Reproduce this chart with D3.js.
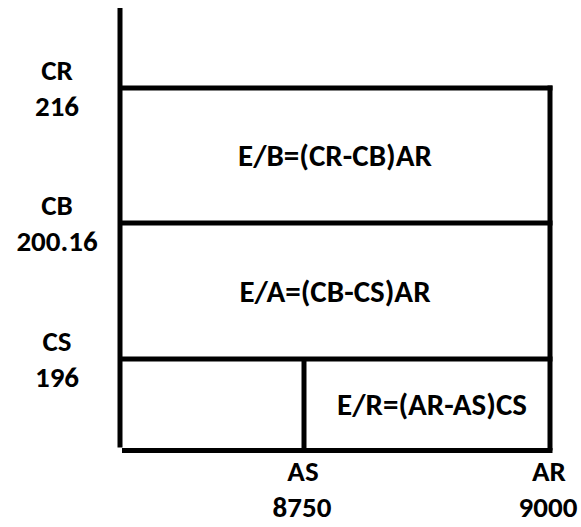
<!DOCTYPE html>
<html>
<head>
<meta charset="utf-8">
<script src="https://cdn.jsdelivr.net/npm/d3@7"></script>
<style>
  html, body { margin: 0; padding: 0; background: #fff; }
  svg text { font-family: Carlito, Calibri, Lato, sans-serif; font-weight: bold; fill: #000; }
</style>
</head>
<body>
<svg id="chart" width="581" height="527"></svg>
<script>
// Price levels (vertical) and quantities (horizontal) of the schematic
const priceNames = ['CS', 'CB', 'CR'];
const priceValues = [196, 200.16, 216];
const qtyNames = ['AS', 'AR'];
const qtyValues = [8750, 9000];
// Area labels and their bounds: [top level, bottom level, left qty (null = axis), right qty]
const areaLabels = ['E/B=(CR-CB)AR', 'E/A=(CB-CS)AR', 'E/R=(AR-AS)CS'];
const areaBounds = [[216, 200.16, null, 9000], [200.16, 196, null, 9000], [196, 0, 8750, 9000]];

(function () {
  const svg = d3.select('#chart');

  // Schematic (not proportional) axes: piecewise scales through the levels
  const y = d3.scaleLinear().domain([0].concat(priceValues)).range([450.5, 359, 223, 88]);
  const x = d3.scaleLinear().domain([0].concat(qtyValues)).range([120, 304, 550]);
  const lw = 5;

  const g = svg.append('g');

  // Vertical axis
  g.append('line')
    .attr('x1', x(0)).attr('x2', x(0))
    .attr('y1', y(216) - 80).attr('y2', y(0) - 3)
    .attr('stroke', '#000').attr('stroke-width', lw);
  // Horizontal base line
  g.append('line')
    .attr('x1', x(0) + 2).attr('x2', x(9000) + 2.5)
    .attr('y1', y(0)).attr('y2', y(0))
    .attr('stroke', '#000').attr('stroke-width', lw);

  // Horizontal level lines
  g.selectAll('line.level').data(priceValues).join('line')
    .attr('class', 'level')
    .attr('x1', x(0)).attr('x2', x(9000) + 2.5)
    .attr('y1', d => y(d)).attr('y2', d => y(d))
    .attr('stroke', '#000').attr('stroke-width', lw);

  // Vertical quantity lines
  g.selectAll('line.qty').data(qtyValues).join('line')
    .attr('class', 'qty')
    .attr('x1', d => x(d)).attr('x2', d => x(d))
    .attr('y1', d => d === 9000 ? y(216) - 2.5 : y(196))
    .attr('y2', y(0))
    .attr('stroke', '#000').attr('stroke-width', lw);

  // Area labels
  g.selectAll('text.area').data(areaLabels).join('text')
    .attr('class', 'area')
    .attr('x', (d, i) => {
      const b = areaBounds[i];
      const l = b[2] === null ? x(0) : x(b[2]);
      return (l + x(b[3])) / 2 + (b[2] === null ? 0 : 5);
    })
    .attr('y', (d, i) => (y(areaBounds[i][0]) + y(areaBounds[i][1])) / 2 + 10.5)
    .attr('text-anchor', 'middle')
    .attr('font-size', 31)
    .text(d => d);

  // Left labels (name above, value below each level)
  priceValues.forEach((v, i) => {
    g.append('text').attr('x', 57).attr('y', y(v) - 8)
      .attr('text-anchor', 'middle').attr('font-size', 29).text(priceNames[i]);
    g.append('text').attr('x', 57).attr('y', y(v) + 28)
      .attr('text-anchor', 'middle').attr('font-size', 29).text(d3.format('~f')(v));
  });

  // Bottom labels
  qtyValues.forEach((v, i) => {
    g.append('text').attr('x', x(v) - 1).attr('y', 481)
      .attr('text-anchor', 'middle').attr('font-size', 29).text(qtyNames[i]);
    g.append('text').attr('x', x(v) - 2).attr('y', 517)
      .attr('text-anchor', 'middle').attr('font-size', 29).text(d3.format('~f')(v));
  });
})();
</script>
</body>
</html>
